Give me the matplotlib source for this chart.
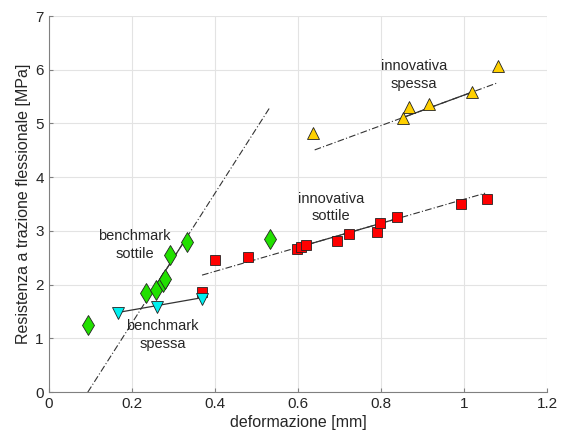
import matplotlib
matplotlib.use("Agg")
import matplotlib.pyplot as plt

plt.rcParams['font.family'] = ['Liberation Sans', 'DejaVu Sans']

# benchmark sottile (green diamonds)
bs_x = [0.094, 0.234, 0.257, 0.274, 0.280, 0.293, 0.332, 0.532]
bs_y = [1.25, 1.85, 1.90, 2.05, 2.10, 2.55, 2.80, 2.84]
# benchmark spessa (cyan triangles down)
bp_x = [0.167, 0.260, 0.370]
bp_y = [1.47, 1.59, 1.73]
# innovativa sottile (red squares)
is_x = [0.369, 0.400, 0.480, 0.598, 0.608, 0.619, 0.693, 0.723, 0.790, 0.798, 0.838, 0.991, 1.055]
is_y = [1.86, 2.46, 2.51, 2.66, 2.70, 2.74, 2.82, 2.94, 2.98, 3.14, 3.25, 3.50, 3.60]
# innovativa spessa (yellow triangles up)
ip_x = [0.635, 0.853, 0.867, 0.914, 1.018, 1.081]
ip_y = [4.83, 5.10, 5.31, 5.36, 5.59, 6.07]

# fit lines: (slope, intercept), dash-dot range, solid range
fits = {
    'bs': (12.1, -1.14, (0.094, 0.532), (0.234, 0.332)),
    'bp': (1.36, 1.255, None, (0.175, 0.365)),
    'is': (2.24, 1.35, (0.369, 1.05), (0.60, 0.84)),
    'ip': (2.84, 2.69, (0.64, 1.08), (0.85, 1.015)),
}

fig = plt.figure(figsize=(5.61, 4.46), dpi=100)
ax = fig.add_axes([0.0868, 0.121, 0.889, 0.843])

for key, (m, q, dd, solid) in fits.items():
    if dd is not None:
        ax.plot(dd, [m * dd[0] + q, m * dd[1] + q], color='#333333', lw=0.8,
                ls=(0, (6, 2, 1, 2)), zorder=2)
    ax.plot(solid, [m * solid[0] + q, m * solid[1] + q], color='#333333', lw=0.9, zorder=2)

ax.plot(is_x, is_y, 's', ms=6.5, mfc='#ff0000', mec='#222222', mew=0.6, zorder=3)
ax.plot(ip_x, ip_y, '^', ms=9, mfc='#ffd000', mec='#222222', mew=0.6, zorder=3)
ax.plot(bs_x, bs_y, 'd', ms=10, mfc='#22e000', mec='#222222', mew=0.6, zorder=3)
ax.plot(bp_x, bp_y, 'v', ms=9, mfc='#00f0f0', mec='#222222', mew=0.6, zorder=3)

txt = dict(fontsize=10.5, color='#262626', ha='center', va='center', linespacing=1.3)
ax.text(0.207, 2.74, 'benchmark\nsottile', **txt)
ax.text(0.274, 1.06, 'benchmark\nspessa', **txt)
ax.text(0.680, 3.43, 'innovativa\nsottile', **txt)
ax.text(0.879, 5.90, 'innovativa\nspessa', **txt)

ax.set_xlim(0, 1.2)
ax.set_ylim(0, 7)
ax.set_xticks([0, 0.2, 0.4, 0.6, 0.8, 1, 1.2])
ax.set_xticklabels(['0', '0.2', '0.4', '0.6', '0.8', '1', '1.2'])
ax.set_yticks(range(8))
ax.grid(True, color='#e3e3e3', lw=0.8)
ax.set_axisbelow(True)
for s in ['top', 'right']:
    ax.spines[s].set_visible(False)
for s in ['left', 'bottom']:
    ax.spines[s].set_color('#808080')
ax.tick_params(direction='in', length=3, colors='#808080', labelcolor='#262626', labelsize=11)
ax.set_xlabel('deformazione [mm]', fontsize=11.5, color='#262626', labelpad=3)
ax.set_ylabel('Resistenza a trazione flessionale [MPa]', fontsize=11.5, color='#262626', labelpad=3)

fig.savefig('out.png', dpi=100)
